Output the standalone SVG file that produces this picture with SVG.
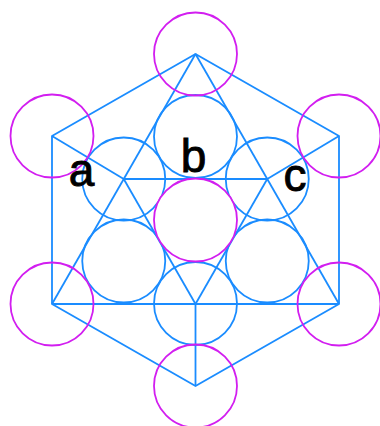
<svg xmlns="http://www.w3.org/2000/svg" width="380" height="426" viewBox="0 0 380 426">
<style>
.ln{stroke:#1a8cff;stroke-width:1.8;fill:none;stroke-linejoin:round}
.bc{stroke:#1a8cff;stroke-width:1.8;fill:none}
.mc{stroke:#d21ef0;stroke-width:1.8;fill:none}
.mcf{stroke:#d21ef0;stroke-width:1.8;fill:#ffffff}
.lbl{font-family:"Liberation Sans",Arial,sans-serif;font-size:46px;fill:#000;stroke:#000;stroke-width:0.9;text-anchor:middle}
</style>
<rect width="380" height="426" fill="#fff"/>
<g id="connectors">
<polygon class="ln" points="195.5,54 339,136 339,304 195.5,386 52,304 52,136"/>
<line class="ln" x1="195.5" y1="54" x2="52" y2="304"/>
<line class="ln" x1="195.5" y1="54" x2="339" y2="304"/>
<line class="ln" x1="52" y1="304" x2="339" y2="304"/>
<line class="ln" x1="123.75" y1="179" x2="267.25" y2="179"/>
<line class="ln" x1="123.75" y1="179" x2="195.5" y2="304"/>
<line class="ln" x1="267.25" y1="179" x2="195.5" y2="304"/>
<line class="ln" x1="52" y1="136" x2="123.75" y2="179"/>
<line class="ln" x1="339" y1="136" x2="267.25" y2="179"/>
<line class="ln" x1="195.5" y1="304" x2="195.5" y2="386"/>
</g>
<g id="face-top"><circle class="bc" cx="195.5" cy="136.5" r="41.5"/></g>
<g id="face-left"><circle class="bc" cx="123.75" cy="261" r="41.5"/></g>
<g id="face-right"><circle class="bc" cx="267.25" cy="261" r="41.5"/></g>
<g id="face-back-left"><circle class="bc" cx="123.75" cy="179" r="41.5"/></g>
<g id="face-back-right"><circle class="bc" cx="267.25" cy="179" r="41.5"/></g>
<g id="face-back-bottom"><circle class="bc" cx="195.5" cy="303.5" r="41.5"/></g>
<g id="corner-top"><circle class="mc" cx="195.5" cy="54" r="41.5"/></g>
<g id="corner-ur"><circle class="mc" cx="339" cy="136" r="41.5"/></g>
<g id="corner-lr"><circle class="mc" cx="339" cy="304" r="41.5"/></g>
<g id="corner-bottom"><circle class="mc" cx="195.5" cy="386" r="41.5"/></g>
<g id="corner-ll"><circle class="mc" cx="52" cy="304" r="41.5"/></g>
<g id="corner-ul"><circle class="mc" cx="52" cy="136" r="41.5"/></g>
<g id="corner-center"><circle class="mcf" cx="195.5" cy="220" r="41.5"/></g>
<g id="labels">
<text class="lbl" x="81.5" y="186">a</text>
<text class="lbl" x="193.5" y="171.5">b</text>
<text class="lbl" x="295" y="191">c</text>
</g>
</svg>
